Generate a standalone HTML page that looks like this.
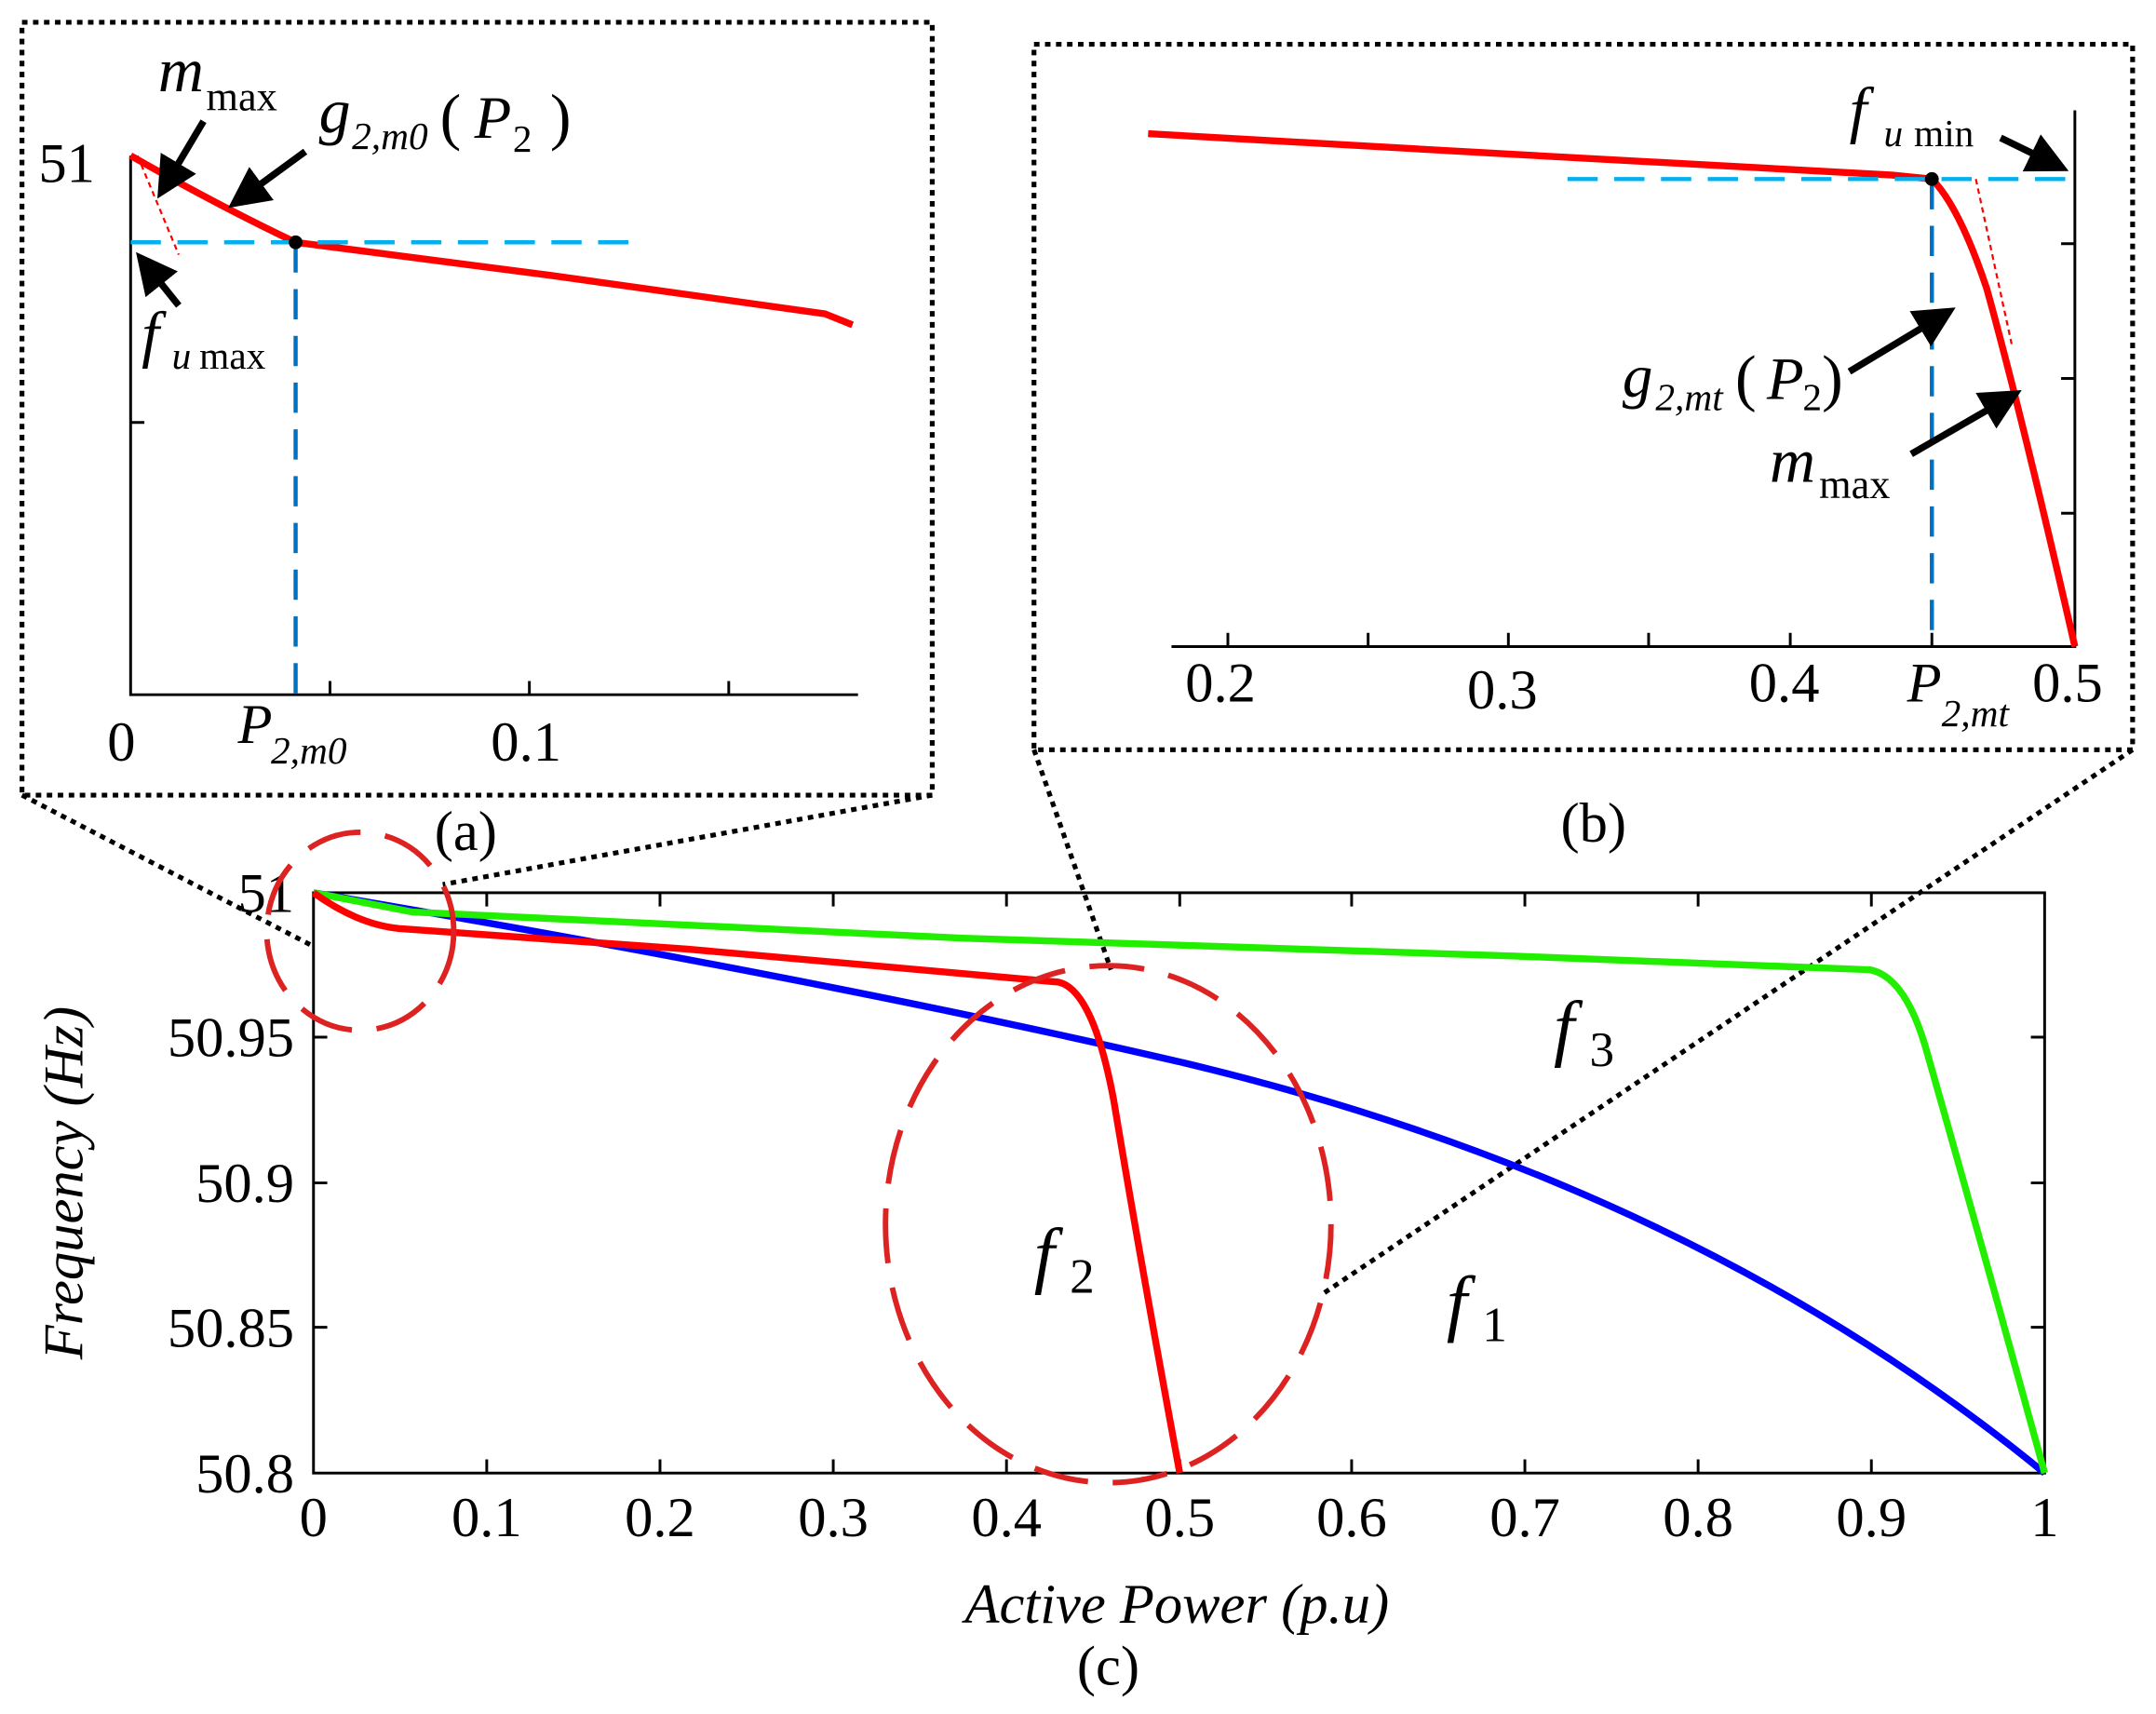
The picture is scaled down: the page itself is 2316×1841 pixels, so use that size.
<!DOCTYPE html>
<html><head><meta charset="utf-8"><style>
html,body{margin:0;padding:0;background:#fff;}
svg{display:block;}
text{font-family:"Liberation Serif",serif;fill:#000;}
</style></head><body>
<svg width="2316" height="1841" viewBox="0 0 1568 1246" xmlns="http://www.w3.org/2000/svg">
<defs>
<marker id="ah" markerWidth="6" markerHeight="6" refX="5" refY="3" orient="auto" markerUnits="strokeWidth">
<path d="M0,0 L6,3 L0,6 z" fill="#000"/></marker>
</defs>
<g stroke="#000" stroke-width="3.5" stroke-dasharray="4,4" fill="none">
<rect x="16" y="16" width="662" height="562"/>
<rect x="752" y="32" width="799" height="513"/>
<line x1="16" y1="578" x2="228" y2="688"/>
<line x1="678" y1="578" x2="322" y2="643"/>
<line x1="752" y1="545" x2="808" y2="705"/>
<line x1="1551" y1="545" x2="963" y2="940"/>
</g>
<g stroke="#000" stroke-width="2" fill="none">
<rect x="228" y="649" width="1259" height="422"/>
<path d="M354,1071v-10M480,1071v-10M606,1071v-10M732,1071v-10M858,1071v-10M983,1071v-10M1109,1071v-10M1235,1071v-10M1361,1071v-10"/>
<path d="M354,649v10M480,649v10M606,649v10M732,649v10M858,649v10M983,649v10M1109,649v10M1235,649v10M1361,649v10"/>
<path d="M228,754h10M228,860h10M228,965h10M1487,754h-10M1487,860h-10M1487,965h-10"/>
</g>
<g font-size="41" text-anchor="middle">
<text x="228" y="1117">0</text><text x="354" y="1117">0.1</text><text x="480" y="1117">0.2</text><text x="606" y="1117">0.3</text><text x="732" y="1117">0.4</text><text x="858" y="1117">0.5</text><text x="983" y="1117">0.6</text><text x="1109" y="1117">0.7</text><text x="1235" y="1117">0.8</text><text x="1361" y="1117">0.9</text><text x="1487" y="1117">1</text>
</g>
<g font-size="41" text-anchor="end">
<text x="214" y="663">51</text><text x="214" y="768">50.95</text><text x="214" y="874">50.9</text><text x="214" y="979">50.85</text><text x="214" y="1085">50.8</text>
</g>
<text x="856" y="1180" font-size="41" font-style="italic" text-anchor="middle">Active Power (p.u)</text>
<text x="806" y="1225" font-size="41" text-anchor="middle">(c)</text>
<text transform="translate(60,860) rotate(-90)" font-size="41" font-style="italic" text-anchor="middle">Frequency (Hz)</text>
<path d="M228,649 Q600,712 858,772 Q1230,860 1487,1071" stroke="#0000ff" stroke-width="5" fill="none"/>
<path d="M228,649 L300,663 L700,682 L1100,695 L1360,705 Q1385,710 1400,760 Q1440,900 1487,1071" stroke="#22ee00" stroke-width="5" fill="none"/>
<path d="M228,649 Q260,672 290,675 L500,690 L770,714 Q795,720 810,800 Q830,920 858,1071" stroke="#ff0000" stroke-width="5" fill="none"/>
<g stroke="#dd2222" stroke-width="4" stroke-dasharray="40,18" fill="none">
<ellipse cx="262" cy="677" rx="68" ry="72"/>
<ellipse cx="806" cy="890" rx="162" ry="188"/>
</g>
<g font-size="54" font-style="italic">
<text x="752" y="930">f</text><text x="778" y="940" font-size="36" font-style="normal">2</text>
<text x="1052" y="965">f</text><text x="1078" y="975" font-size="36" font-style="normal">1</text>
<text x="1130" y="765">f</text><text x="1156" y="775" font-size="36" font-style="normal">3</text>
</g>
<g stroke="#000" stroke-width="2" fill="none">
<path d="M95,113V505H624"/>
<path d="M240,505v-10M385,505v-10M530,505v-10M95,307h10"/>
</g>
<path d="M95,113 Q160,150 215,176 L400,200 L600,228 L620,236" stroke="#ff0000" stroke-width="5" fill="none"/>
<line x1="100" y1="113" x2="130" y2="185" stroke="#ff0000" stroke-width="1.5" stroke-dasharray="4,3"/>
<line x1="95" y1="176" x2="458" y2="176" stroke="#00b0f0" stroke-width="3" stroke-dasharray="22,12"/>
<line x1="215" y1="176" x2="215" y2="505" stroke="#0070c0" stroke-width="3" stroke-dasharray="22,12"/>
<circle cx="215" cy="176" r="5" fill="#000"/>
<text x="28" y="132" font-size="41">51</text>
<text x="78" y="553" font-size="41">0</text>
<text x="357" y="553" font-size="41">0.1</text>
<text x="173" y="540" font-size="41" font-style="italic">P</text><text x="197" y="555" font-size="28" font-style="italic">2,m0</text>
<text x="115" y="66" font-size="46" font-style="italic">m</text><text x="150" y="80" font-size="30">max</text>
<text x="232" y="96" font-size="46" font-style="italic">g</text><text x="256" y="108" font-size="28" font-style="italic">2,m0</text>
<text x="320" y="100" font-size="46">(</text><text x="345" y="100" font-size="44" font-style="italic">P</text><text x="373" y="110" font-size="28">2</text><text x="400" y="100" font-size="46">)</text>
<text x="103" y="258" font-size="46" font-style="italic">f</text><text x="125" y="268" font-size="28" font-style="italic">u</text><text x="145" y="268" font-size="28">max</text>
<g stroke="#000" stroke-width="5" fill="none" marker-end="url(#ah)">
<line x1="148" y1="88" x2="117" y2="140"/>
<line x1="222" y1="110" x2="170" y2="148"/>
<line x1="130" y1="222" x2="102" y2="187"/>
</g>
<text x="316" y="618" font-size="41">(a)</text>
<g stroke="#000" stroke-width="2" fill="none">
<path d="M852,470H1509V80"/>
<path d="M893,470v-10M995,470v-10M1097,470v-10M1199,470v-10M1302,470v-10M1405,470v-10"/>
<path d="M1509,177h-10M1509,275h-10M1509,373h-10"/>
</g>
<path d="M835,97 L1100,112 L1375,127 L1405,130 Q1425,150 1445,210 Q1470,300 1509,470" stroke="#ff0000" stroke-width="5" fill="none"/>
<line x1="1437" y1="130" x2="1463" y2="250" stroke="#ff0000" stroke-width="1.5" stroke-dasharray="4,3"/>
<line x1="1140" y1="130" x2="1509" y2="130" stroke="#00b0f0" stroke-width="3" stroke-dasharray="22,12"/>
<line x1="1405" y1="130" x2="1405" y2="470" stroke="#0070c0" stroke-width="3" stroke-dasharray="22,12"/>
<circle cx="1405" cy="130" r="5" fill="#000"/>
<g font-size="41">
<text x="862" y="510">0.2</text><text x="1067" y="515">0.3</text><text x="1272" y="510">0.4</text><text x="1478" y="510">0.5</text>
</g>
<text x="1387" y="510" font-size="41" font-style="italic">P</text><text x="1412" y="528" font-size="28" font-style="italic">2,mt</text>
<text x="1345" y="95" font-size="46" font-style="italic">f</text><text x="1370" y="106" font-size="28" font-style="italic">u</text><text x="1392" y="106" font-size="28">min</text>
<text x="1180" y="288" font-size="44" font-style="italic">g</text><text x="1204" y="298" font-size="28" font-style="italic">2,mt</text>
<text x="1262" y="290" font-size="46">(</text><text x="1285" y="290" font-size="44" font-style="italic">P</text><text x="1311" y="298" font-size="28">2</text><text x="1325" y="290" font-size="46">)</text>
<text x="1287" y="350" font-size="46" font-style="italic">m</text><text x="1323" y="362" font-size="30">max</text>
<g stroke="#000" stroke-width="5" fill="none" marker-end="url(#ah)">
<line x1="1455" y1="100" x2="1500" y2="122"/>
<line x1="1345" y1="270" x2="1418" y2="226"/>
<line x1="1390" y1="330" x2="1466" y2="286"/>
</g>
<text x="1135" y="612" font-size="41">(b)</text>
</svg>
</body></html>
